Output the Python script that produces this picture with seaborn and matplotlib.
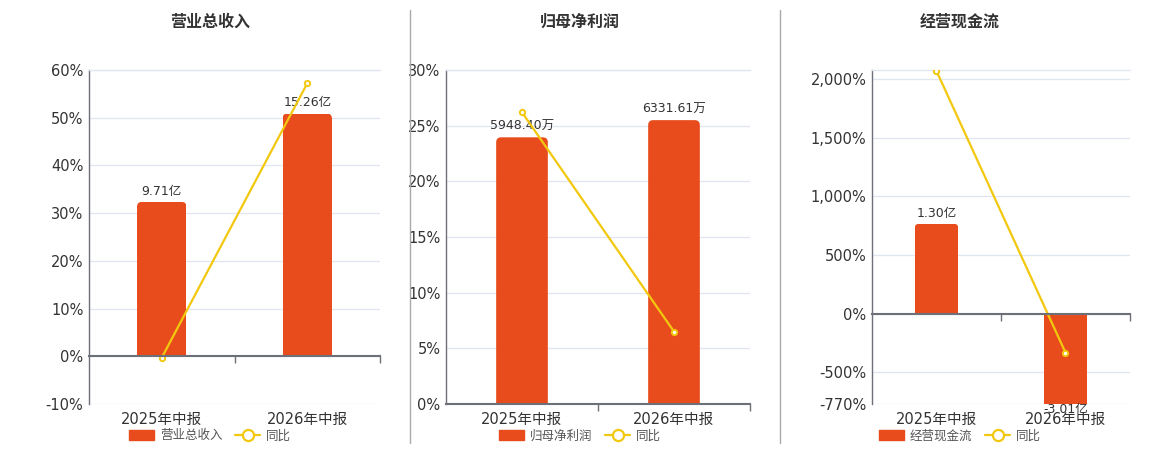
import numpy as np
import pandas as pd
import matplotlib
matplotlib.use('Agg')
import matplotlib.pyplot as plt
import matplotlib.ticker as mticker
from matplotlib.patches import Patch, Rectangle, FancyBboxPatch
from matplotlib.lines import Line2D
import seaborn as sns

# ── data ────────────────────────────────────────────────────
categories = ['2025年中报', '2026年中报']

revenue = [9.71, 15.26]            # 亿
revenue_yoy = [-0.3, 57.2]         # %
profit = [5948.40, 6331.61]        # 万
profit_yoy = [26.2, 6.5]           # %
cashflow = [1.30, -3.01]           # 亿
cashflow_yoy = [2068.0, -332.0]    # %

titles = ['营业总收入', '归母净利润', '经营现金流']
units = ['亿', '万', '亿']

# ── style ───────────────────────────────────────────────────
sns.set_theme(style='white')
plt.rcParams['font.family'] = ['DejaVu Sans', 'Noto Sans CJK SC']

BAR_C = '#E84C1D'
LINE_C = '#F2C80F'
TXT_C = '#333333'
AXIS_C = '#6E7079'
GRID_C = '#E0E6F1'

fig = plt.figure(figsize=(11.6, 4.5), dpi=100)

# panel boxes in pixels: left, width ; all share top 70 / bottom 404
panels = [
    dict(bars=revenue, yoy=revenue_yoy, left=89, width=291,
         pct_lim=(-10, 60), pct_ticks=np.arange(-10, 61, 10), bar_lim=(-3, 18),
         center=210),
    dict(bars=profit, yoy=profit_yoy, left=446, width=304,
         pct_lim=(0, 30), pct_ticks=np.arange(0, 31, 5), bar_lim=(0, 7450),
         center=580),
    dict(bars=cashflow, yoy=cashflow_yoy, left=872, width=258,
         pct_lim=(-770, 2077), pct_ticks=[-770, -500, 0, 500, 1000, 1500, 2000],
         bar_lim=(-1.305, 3.52), center=960),
]

W, H = 1160, 450
RADIUS_PX = 5
for i, p in enumerate(panels):
    rect = [p['left'] / W, 1 - 404 / H, p['width'] / W, 334 / H]
    ax = fig.add_axes(rect)      # percent axis, grid
    ax2 = ax.twinx()             # bars
    ax3 = ax.twinx()             # yoy line + zero axis

    df = pd.DataFrame({'cat': categories, 'val': p['bars']})
    sns.barplot(data=df, x='cat', y='val', ax=ax2, color=BAR_C,
                width=0.34, saturation=1)
    ax2.set_xlim(-0.5, 1.5)
    ax2.set_ylim(p['bar_lim'])
    ax2.set_yticks([])
    ax2.set_ylabel('')
    for s in ax2.spines.values():
        s.set_visible(False)

    # rounded ends on the bars (far end only)
    lo, hi = p['bar_lim']
    x_per_px = 2.0 / p['width']
    y_per_px = (hi - lo) / 334
    for bar in list(ax2.patches):
        bx, by = bar.get_x(), bar.get_y()
        bw, bh = bar.get_width(), bar.get_height()
        y0, y1 = min(by, by + bh), max(by, by + bh)
        ext = 2 * RADIUS_PX * y_per_px
        if by + bh >= 0:
            fy0, fy1 = y0 - ext, y1
        else:
            fy0, fy1 = y0, y1 + ext
        rb = FancyBboxPatch((bx, fy0), bw, fy1 - fy0,
                            boxstyle=f'round,pad=0,rounding_size={RADIUS_PX * x_per_px}',
                            mutation_aspect=y_per_px / x_per_px,
                            facecolor=BAR_C, edgecolor='none')
        ax2.add_patch(rb)
        cy0, cy1 = max(y0, lo), min(y1, hi)
        clip = Rectangle((bx, cy0), bw, cy1 - cy0, transform=ax2.transData)
        rb.set_clip_path(clip)
        bar.set_visible(False)

    # value labels at bar ends
    for x, v in enumerate(p['bars']):
        txt = f'{v:.2f}{units[i]}'
        if v >= 0:
            ax2.annotate(txt, (x, min(v, hi)), xytext=(0, 3), textcoords='offset points',
                         ha='center', va='bottom', fontsize=9, color=TXT_C)
        else:
            ax2.annotate(txt, (x, max(v, lo)), xytext=(0, 1), textcoords='offset points',
                         ha='center', va='top', fontsize=9, color=TXT_C)

    # yoy line
    ldf = pd.DataFrame({'x': [0, 1], 'y': p['yoy']})
    sns.lineplot(data=ldf, x='x', y='y', ax=ax3, color=LINE_C, lw=1.6,
                 marker='o', markersize=3.8, markerfacecolor='white',
                 markeredgecolor=LINE_C, markeredgewidth=1.4)
    ax3.set_ylim(p['pct_lim'])
    ax3.set_yticks([])
    ax3.set_ylabel('')
    ax3.set_xlabel('')
    ax3.xaxis.set_visible(True)
    for k in ['left', 'right', 'top']:
        ax3.spines[k].set_visible(False)
    ax3.spines['bottom'].set_position(('data', 0))
    ax3.spines['bottom'].set_color(AXIS_C)
    ax3.spines['bottom'].set_linewidth(1.5)
    ax3.set_xticks([])
    ax3.xaxis.set_minor_locator(mticker.FixedLocator([0.5, 1.5]))
    ax3.tick_params(axis='x', which='minor', bottom=True, length=5, width=1,
                    color=AXIS_C, direction='out', labelbottom=False)

    # percent axis
    ax.set_ylim(p['pct_lim'])
    ax.set_yticks(p['pct_ticks'])
    ax.yaxis.set_major_formatter(mticker.FuncFormatter(lambda v, _: f'{v:,.0f}%'))
    ax.tick_params(axis='y', length=0, labelsize=10.5, labelcolor=TXT_C, pad=4)
    ax.grid(axis='y', color=GRID_C, lw=0.9)
    ax.set_axisbelow(True)
    ax.spines['left'].set_color(AXIS_C)
    ax.spines['left'].set_linewidth(1)
    ax.spines['right'].set_visible(False)
    ax.spines['bottom'].set_visible(False)
    ax.spines['top'].set_color(GRID_C)
    ax.spines['top'].set_linewidth(0.9)
    ax.set_xticks([])
    ax.set_xlim(-0.5, 1.5)
    ax3.set_xlim(-0.5, 1.5)

    sec = ax.secondary_xaxis(0)
    sec.set_xticks([0, 1], labels=categories)
    sec.tick_params(length=0, labelsize=10.5, labelcolor=TXT_C, pad=6)
    sec.spines['bottom'].set_visible(False)

    # title
    fig.text(p['center'] / W, 1 - 22 / H, titles[i], ha='center', va='center',
             fontsize=11.5, fontweight='bold', color=TXT_C,
             family=['Noto Sans CJK SC', 'DejaVu Sans'])

    # legend
    handles = [Patch(facecolor=BAR_C, edgecolor=BAR_C, label=titles[i]),
               Line2D([0], [0], color=LINE_C, lw=1.6, marker='o', markersize=8,
                      markerfacecolor='white', markeredgecolor=LINE_C,
                      markeredgewidth=1.6, label='同比')]
    ax.legend(handles=handles, loc='center', ncol=2, frameon=False,
              bbox_to_anchor=(p['center'] / W, 1 - 436 / H),
              bbox_transform=fig.transFigure, fontsize=9,
              labelcolor='#555555', handlelength=2.0, handleheight=0.9,
              columnspacing=1.0, handletextpad=0.5)

# dividers between panels
for xp in [410, 780]:
    fig.add_artist(Line2D([xp / W, xp / W], [1 - 443 / H, 1 - 10 / H],
                          color='#AAAAAA', lw=1, transform=fig.transFigure))

fig.savefig('out.png', dpi=100)
